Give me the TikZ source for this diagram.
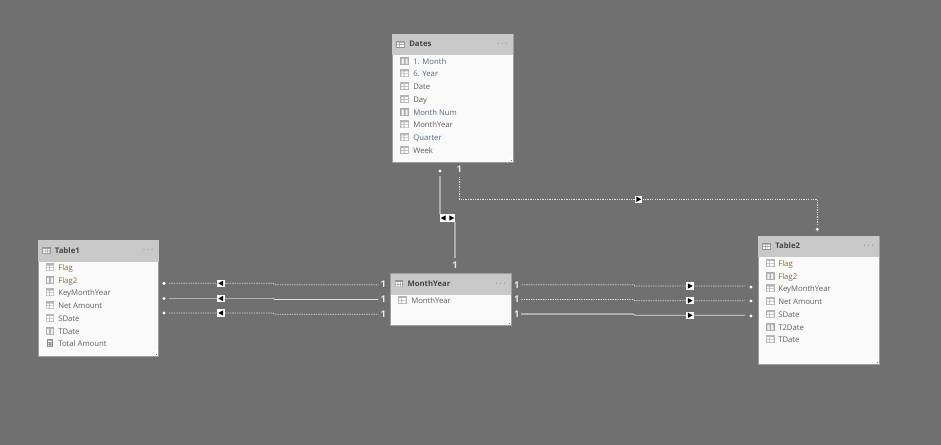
\documentclass[tikz,border=0pt]{standalone}
\usepackage{fontspec}
\setmainfont{Open Sans}
\usepackage{tikz}
\usetikzlibrary{positioning}
\definecolor{canvasColor}{RGB}{112,112,112}
\definecolor{headColor}{RGB}{200,200,200}
\definecolor{bodyColor}{RGB}{250,250,250}
\definecolor{edgeColor}{RGB}{158,158,158}
\definecolor{dotColor}{RGB}{222,222,222}
\definecolor{iconColor}{RGB}{150,150,150}
\definecolor{greyText}{RGB}{96,96,96}
\definecolor{blueText}{RGB}{84,104,130}
\definecolor{brownText}{RGB}{128,104,78}
\tikzset{
  tablebox/.style={draw=edgeColor,fill=bodyColor,line width=0.8pt,minimum width=90.5pt,inner sep=0pt,anchor=north west},
  headbox/.style={fill=headColor,minimum width=90.5pt,minimum height=16pt,inner sep=0pt,anchor=north west},
  titletext/.style={font=\fontsize{5.8}{7}\selectfont\bfseries,text=black!72,inner sep=0pt,anchor=west,text height=4.9pt,text depth=1pt},
  fieldtext/.style={font=\fontsize{5.8}{7}\selectfont,inner sep=0pt,anchor=west,text height=5.4pt,text depth=0.8pt},
  menutext/.style={font=\fontsize{6}{7}\selectfont,text=black!50,inner sep=0pt,text height=4.6pt,text depth=1.3pt},
  endstar/.style={circle,fill=white,minimum size=2.6pt,inner sep=0pt,outer sep=2.5pt},
  onetext/.style={font=\fontsize{7}{8}\selectfont\bfseries,text=white!90!blue,inner sep=0pt,minimum height=8pt,outer sep=1.5pt},
  markbox/.style={fill=white,minimum size=5.6pt,inner sep=0pt},
  leftbox/.style={markbox,path picture={\fill[black] ([xshift=-2pt]path picture bounding box.center) -- ++(3.6pt,2pt) -- ++(0,-4pt) -- cycle;}},
  rightbox/.style={markbox,path picture={\fill[black] ([xshift=2pt]path picture bounding box.center) -- ++(-3.6pt,2pt) -- ++(0,-4pt) -- cycle;}},
  bothbox/.style={markbox,minimum width=11pt,path picture={
    \fill[black] ([xshift=-5pt]path picture bounding box.center) -- ++(3.6pt,2pt) -- ++(0,-4pt) -- cycle;
    \fill[black] ([xshift=5pt]path picture bounding box.center) -- ++(-3.6pt,2pt) -- ++(0,-4pt) -- cycle;}},
  dotline/.style={color=dotColor,line width=0.65pt,dash pattern=on 1pt off 0.8pt},
  heavyline/.style={color=black!32,line width=1.1pt},
  lightline/.style={color=dotColor,line width=0.6pt},
  grid/.pic={
    \fill[iconColor!70] (-4.3,-4) rectangle (4.3,4);
    \fill[white] (-3.3,-1.8) rectangle (-1.1,0) (-0.2,-1.8) rectangle (3.3,0) (-3.3,0.9) rectangle (-1.1,3) (-0.2,0.9) rectangle (3.3,3);
  },
  column/.pic={
    \fill[iconColor!80] (-4.3,-4) rectangle (4.3,4);
    \fill[white!85!iconColor] (-3,-2.4) rectangle (-0.8,3.2) (0.8,-2.4) rectangle (3,3.2);
  },
  calc/.pic={
    \fill[iconColor!110] (-3,-4) rectangle (3,4);
    \fill[white] (-1.8,-2.8) rectangle (1.8,-1.2) (-1.8,0) rectangle (-0.6,1) (0.6,0) rectangle (1.8,1) (-1.8,2) rectangle (-0.6,3) (0.6,2) rectangle (1.8,3);
  },
  sheet/.pic={
    \fill[iconColor] (-4.3,-3.6) rectangle (4.3,3.6);
    \fill[white] (-3.3,-1.6) rectangle (-1.2,0) (-0.5,-1.6) rectangle (1,0) (1.7,-1.6) rectangle (3.3,0) (-3.3,0.8) rectangle (-1.2,2.7) (-0.5,0.8) rectangle (1,2.7) (1.7,0.8) rectangle (3.3,2.7);
  },
}
\begin{document}
\begin{tikzpicture}[x=0.75pt,y=-0.75pt]
\fill[canvasColor] (0,0) rectangle (941,445);
\useasboundingbox (0,0) rectangle (941,445);
% tables
\foreach \name/\x/\y/\h/\title in {dates/392/33.7/96.5/Dates,table1/37.7/240/87/Table1,monthyear/390.3/273.3/39/MonthYear,table2/758/235.7/96/Table2} {
  \node[tablebox,minimum height=\h pt] (\name) at (\x,\y) {};
  \node[headbox] (\name head) at (\name.north west) {};
  \node[titletext] (\name title) at ([shift={(17,10.5)}]\name.north west) {\title};
  \node[menutext] (\name menu) at ([shift={(110.5,10.5)}]\name.north west) {·\hspace{1.4pt}·\hspace{1.4pt}·};
  \pic at ([shift={(8.5,10.5)}]\name.north west) {sheet};
  \fill[white] ([shift={(-6,-6)}]\name.south east) rectangle ([shift={(-1,-1)}]\name.south east);
  \fill[black!55] ([shift={(-3,-2)}]\name.south east) rectangle ([shift={(-2,-3)}]\name.south east);
}
% fields
\foreach \y/\field/\kind/\tint [count=\i] in {61/1. Month/column/blueText,73.3/6. Year/grid/blueText,86/Date/grid/greyText,99/Day/grid/greyText,112/Month Num/column/blueText,124.3/MonthYear/grid/greyText,137.3/Quarter/grid/blueText,150/Week/grid/greyText} {
  \pic at (404.7,\y) {\kind};
  \node[fieldtext,text=\tint] (dates field\i) at (413,\y) {\field};
}
\foreach \y/\field/\kind/\tint [count=\i] in {267.3/Flag/grid/brownText,280/Flag2/column/brownText,292.3/KeyMonthYear/grid/greyText,305.3/Net Amount/grid/greyText,318/SDate/grid/greyText,331/TDate/column/greyText,343.3/Total Amount/calc/greyText} {
  \pic at (50,\y) {\kind};
  \node[fieldtext,text=\tint] (table1 field\i) at (58,\y) {\field};
}
\foreach \y/\field/\kind/\tint [count=\i] in {263/Flag/grid/brownText,276/Flag2/column/brownText,288.3/KeyMonthYear/grid/greyText,301/Net Amount/grid/greyText,314/SDate/grid/greyText,327/T2Date/column/greyText,339/TDate/grid/greyText} {
  \pic at (770.3,\y) {\kind};
  \node[fieldtext,text=\tint] (table2 field\i) at (778,\y) {\field};
}
\pic at (402.3,300) {grid};
\node[fieldtext,text=greyText] (monthyear field1) at (411,300) {MonthYear};
% ends of the links on the left
\foreach \i/\ya/\yb/\yc in {1/283.3/284.7/283.7,2/298.5/299.5/299,3/313/314.3/313.7} {
  \node[endstar] (lstar\i) at (164,\ya) {};
  \node[leftbox] (lmark\i) at (221,\ya) {};
  \node[onetext] (lone\i) at (383.3,\yc) {1};
  \coordinate (lkinka\i) at (273,\ya);
  \coordinate (lkinkb\i) at (275,\yb);
}
% ends of the links on the right
\foreach \i/\ya/\yb/\yc in {1/284.7/286/287,2/299.5/300.7/301,3/314/315.3/316} {
  \node[onetext] (rone\i) at (516.7,\ya) {1};
  \node[rightbox] (rmark\i) at (690,\yb) {};
  \node[endstar] (rstar\i) at (751,\yc) {};
  \coordinate (rkinka\i) at (633,\ya);
  \coordinate (rkinkb\i) at (635,\yb);
}
\draw[dotline] (lstar1) -- (lmark1) -- (lkinka1) -- (lkinkb1) -- ([xshift=-3.7pt]lone1.center |- lkinkb1);
\draw[heavyline] (lstar2) -- (lmark2) -- (lkinka2);
\draw[lightline] (lkinka2) -- (lkinkb2) -- ([xshift=-3.7pt]lone2.center |- lkinkb2);
\draw[dotline] (lstar3) -- (lmark3) -- (lkinka3) -- (lkinkb3) -- ([xshift=-3.7pt]lone3.center |- lkinkb3);
\draw[dotline] (rone1) -- (rkinka1) -- (rkinkb1) -- (rmark1) -- ([xshift=-4.5pt]rstar1.center |- rmark1);
\draw[dotline] (rone2) -- (rkinka2) -- (rkinkb2) -- (rmark2) -- ([xshift=-4.5pt]rstar2.center |- rmark2);
\draw[heavyline,line width=0.8pt] (rone3) -- (rkinka3);
\draw[lightline] (rkinka3) -- (rkinkb3) -- (rmark3) -- ([xshift=-4.5pt]rstar3.center |- rmark3);
% links at the top
\node[endstar] (topstar) at (440,171) {};
\node[bothbox] (topmark) at (447.5,218) {};
\node[onetext] (midone) at (455,265.3) {1};
\draw[heavyline] (topstar) -- (topstar |- topmark.north);
\draw[heavyline] (midone |- topmark.south) -- (midone);
\node[onetext] (topone) at (459.3,169.3) {1};
\node[rightbox] (sidemark) at (638.5,199.3) {};
\node[endstar] (sidestar) at (817.3,229.3) {};
\coordinate (sidekinka) at (459.3,199.3);
\coordinate (sidekinkb) at (817.3,199.3);
\draw[dotline] (topone) -- (sidekinka) -- (sidemark) -- (sidekinkb) -- (sidestar);
\end{tikzpicture}
\end{document}
